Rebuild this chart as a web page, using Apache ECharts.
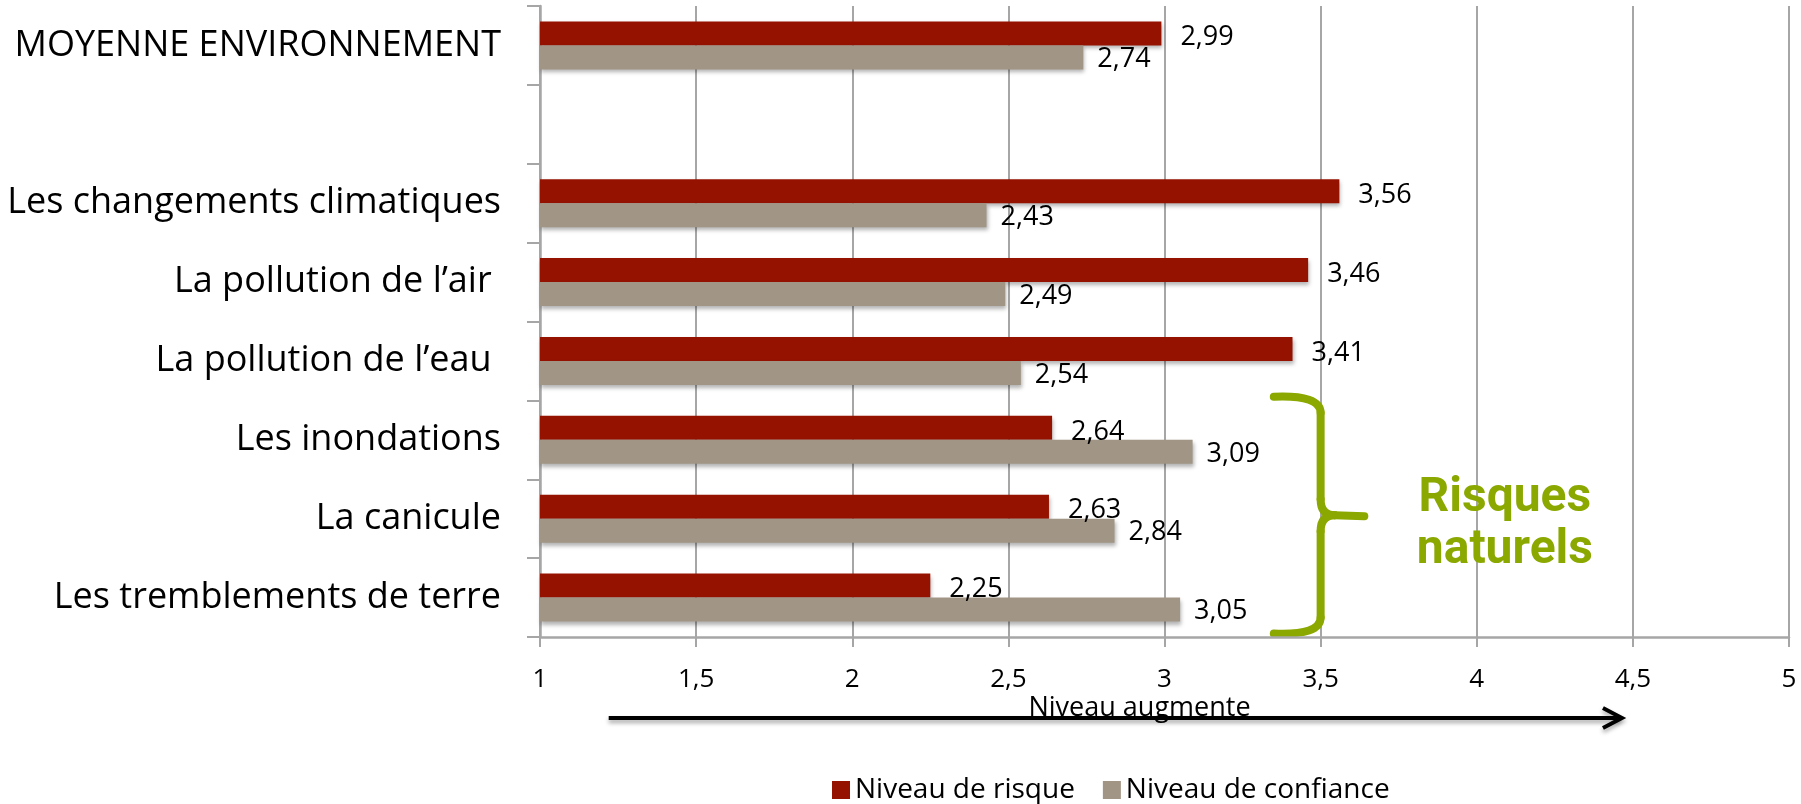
<!DOCTYPE html>
<html><head><meta charset="utf-8">
<script src="https://cdn.jsdelivr.net/npm/echarts@6/dist/echarts.min.js"></script>
<style>html,body{margin:0;padding:0;background:#fff}#c{width:1801px;height:804px}</style>
</head><body><div id="c"></div>
<script>
const categories = ['MOYENNE ENVIRONNEMENT', '', 'Les changements climatiques', 'La pollution de l’air ', 'La pollution de l’eau ', 'Les inondations', 'La canicule', 'Les tremblements de terre'];
const risque = [2.99, null, 3.56, 3.46, 3.41, 2.64, 2.63, 2.25];
const confiance = [2.74, null, 2.43, 2.49, 2.54, 3.09, 2.84, 3.05];
const xTicks = [1, 1.5, 2, 2.5, 3, 3.5, 4, 4.5, 5];
const seriesNames = ['Niveau de risque', 'Niveau de confiance'];

const RED = '#951200', GREY = '#a19585', GREEN = '#8aa800', AXIS = '#a6a6a6';
const FONT = 'Open Sans';
const fmt = v => String(v).replace('.', ',');
const lab = v => v.toFixed(2).replace('.', ',');

const chart = echarts.init(document.getElementById('c'));
const shadow = {shadowBlur: 4, shadowOffsetY: 3, shadowOffsetX: 1, shadowColor: 'rgba(0,0,0,0.3)'};
chart.setOption({
  animation: false,
  textStyle: {fontFamily: FONT},
  grid: {left: 540, right: 12, top: 6, bottom: 167, containLabel: false},
  legend: {
    data: seriesNames, left: 827, top: 771, itemWidth: 18, itemHeight: 18, itemGap: 28,
    icon: 'rect', textStyle: {fontSize: 28, color: '#000', fontFamily: FONT}
  },
  xAxis: {
    type: 'value', min: 1, max: 5, interval: 0.5,
    axisLine: {show: true, lineStyle: {color: AXIS, width: 2.5}},
    axisTick: {show: true, length: 10, lineStyle: {color: AXIS, width: 2}},
    splitLine: {show: true, lineStyle: {color: AXIS, width: 2}},
    axisLabel: {fontSize: 26, color: '#000', margin: 30, formatter: v => xTicks.includes(v) ? fmt(v) : ''}
  },
  yAxis: {
    type: 'category', data: categories, inverse: true,
    axisLine: {show: true, lineStyle: {color: AXIS, width: 2.5}},
    axisTick: {show: true, length: 13, lineStyle: {color: AXIS, width: 2}},
    axisLabel: {fontSize: 36, color: '#000', margin: 39}
  },
  series: [
    {name: seriesNames[0], type: 'bar', data: risque, barWidth: 24, barGap: '0%',
     itemStyle: Object.assign({color: RED}, shadow),
     label: {show: true, position: 'right', distance: 19, offset: [0, 4], fontSize: 27, color: '#000', formatter: p => lab(p.value)}},
    {name: seriesNames[1], type: 'bar', data: confiance, barWidth: 24, barGap: '0%',
     itemStyle: Object.assign({color: GREY}, shadow),
     label: {show: true, position: 'right', distance: 14, offset: [0, 2], fontSize: 27, color: '#000', formatter: p => lab(p.value)}}
  ]
});

function drawAnnotations() {
  const px = v => chart.convertToPixel({xAxisIndex: 0}, v);
  const py = c => chart.convertToPixel({yAxisIndex: 0}, c);
  const yTop = py('Les inondations') - 43;
  const yBot = py('Les tremblements de terre') + 36;
  const xHook = px(3.35), xV = px(3.5), xTip = px(3.64);
  const yMid = (yTop + yBot) / 2;
  const r = 16;
  const bs = {fill: null, stroke: GREEN, lineWidth: 8, lineCap: 'round'};
  const ax0 = px(1.22), ax1 = px(4.465), ay = 718;
  const arrowShadow = {shadowBlur: 4, shadowOffsetY: 3, shadowColor: 'rgba(0,0,0,0.35)'};
  chart.setOption({
    graphic: [
      {type: 'bezierCurve', shape: {x1: xHook, y1: yTop, x2: xV, y2: yTop + r, cpx1: xV, cpy1: yTop - 2}, style: bs},
      {type: 'line', shape: {x1: xV, y1: yTop + r, x2: xV, y2: yMid - r}, style: bs},
      {type: 'bezierCurve', shape: {x1: xV, y1: yMid - r, x2: xV + 14, y2: yMid, cpx1: xV, cpy1: yMid}, style: bs},
      {type: 'line', shape: {x1: xV + 14, y1: yMid, x2: xTip, y2: yMid + 1}, style: bs},
      {type: 'bezierCurve', shape: {x1: xV + 14, y1: yMid, x2: xV, y2: yMid + r, cpx1: xV, cpy1: yMid}, style: bs},
      {type: 'line', shape: {x1: xV, y1: yMid + r, x2: xV, y2: yBot - r}, style: bs},
      {type: 'bezierCurve', shape: {x1: xV, y1: yBot - r, x2: xHook, y2: yBot, cpx1: xV, cpy1: yBot + 2}, style: bs},
      {type: 'text', x: px(4.09), y: yMid + 10, style: {text: 'Risques\nnaturels', fill: GREEN, font: 'bold 48px Roboto', textAlign: 'center', textVerticalAlign: 'middle', lineHeight: 52}},
      {type: 'line', shape: {x1: ax0, y1: ay, x2: ax1 - 3, y2: ay}, style: Object.assign({stroke: '#000', lineWidth: 4}, arrowShadow)},
      {type: 'polyline', shape: {points: [[ax1 - 19, ay - 10], [ax1, ay], [ax1 - 19, ay + 10]]}, style: Object.assign({stroke: '#000', lineWidth: 4, fill: null, lineJoin: 'miter'}, arrowShadow)},
      {type: 'text', x: px(2.92), y: ay - 10, style: {text: 'Niveau augmente', fill: '#000', font: '27px "Open Sans"', textAlign: 'center', textVerticalAlign: 'middle'}}
    ]
  });
}
drawAnnotations();
</script></body></html>
